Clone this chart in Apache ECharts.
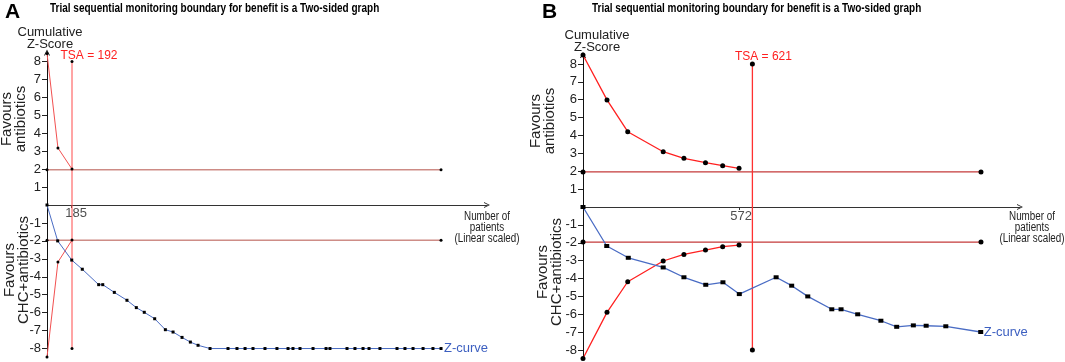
<!DOCTYPE html>
<html>
<head>
<meta charset="utf-8">
<script src="https://cdn.jsdelivr.net/npm/echarts@6/dist/echarts.min.js"></script>
<style>
html,body{margin:0;padding:0;background:#fff;}
#chart{width:1065px;height:362px;}
</style>
</head>
<body>
<div id="chart"></div>
<script>
// ---- panel A (patients, cumulative z) ----
var aBoundX = [0, 84, 192];
var aUpperZ = [8.45, 3.18, 2.0];
var aLowerZ = [-8.47, -3.18, -1.95];
var aConvX = [0, 3026];
var aTsa = 192;
var aTick = 185;
var aZX = [0, 82, 190, 271, 397, 428, 517, 614, 686, 747, 827, 909, 968, 1037, 1101, 1160,
    1252, 1390, 1459, 1521, 1582, 1674, 1766, 1851, 1889, 1943, 2043, 2143, 2173, 2304,
    2365, 2427, 2473, 2557, 2688, 2749, 2811, 2888, 2964, 3026];
var aZ = [0, -2.0, -3.07, -3.58, -4.44, -4.44, -4.87, -5.31, -5.72, -5.98, -6.34, -6.95, -7.08, -7.38, -7.64, -7.82,
    -8, -8, -8, -8, -8, -8, -8, -8, -8, -8, -8, -8, -8, -8,
    -8, -8, -8, -8, -8, -8, -8, -8, -8, -8];

// ---- panel B ----
var bBoundX = [0, 88, 164, 294, 370, 449, 512, 572];
var bUpperZ = [8.5, 5.99, 4.21, 3.09, 2.72, 2.48, 2.31, 2.16];
var bLowerZ = [-8.47, -5.89, -4.18, -3.02, -2.65, -2.41, -2.22, -2.13];
var bConvX = [0, 1459];
var bTsa = 621;
var bTick = 572;
var bZX = [0, 87, 166, 294, 370, 450, 513, 573, 708, 765, 824, 912, 946, 1007, 1092, 1150, 1211, 1258, 1330, 1458];
var bZ = [0, -2.18, -2.84, -3.38, -3.93, -4.35, -4.21, -4.87, -3.93, -4.40, -5.0, -5.72, -5.72, -6.0, -6.36, -6.70, -6.62, -6.64, -6.67, -6.99];

var convZ = 1.96;
var tsaTop = 8, tsaBottom = -8;
var yTicks = [-8, -7, -6, -5, -4, -3, -2, -1, 1, 2, 3, 4, 5, 6, 7, 8];

var FONT = 'Liberation Sans, Arial, Helvetica, sans-serif';
var chevron = 'path://M0,10 L5,0 L10,10 L8.4,10 L5,3.2 L1.6,10 Z';

function zip(xs, ys) {
    return xs.map(function (x, i) { return [x, ys[i]]; });
}

function xAxisOf(idx, max, tick) {
    return {
        type: 'value', gridIndex: idx, min: 0, max: max,
        axisLine: { onZero: true, symbol: ['none', chevron], symbolSize: [8, 6], lineStyle: { color: '#333', width: 1 } },
        axisTick: { show: true, customValues: [tick], length: 3, lineStyle: { color: '#333' } },
        axisLabel: { show: false },
        splitLine: { show: false }
    };
}

function yAxisOf(idx) {
    return {
        type: 'value', gridIndex: idx, min: -8.5, max: 8.5,
        axisLine: { onZero: true, symbol: ['none', chevron], symbolSize: [9, 6], lineStyle: { color: '#111', width: 1 } },
        axisTick: { show: true, customValues: yTicks, length: 5, lineStyle: { color: '#222' } },
        axisLabel: { show: false },
        splitLine: { show: false }
    };
}

function panelSeries(idx, d, st) {
    var base = { type: 'line', xAxisIndex: idx, yAxisIndex: idx, animation: false, silent: true };
    function line(extra) { return Object.assign({}, base, extra); }
    return [
        line({
            data: zip(d.convX, [convZ, convZ]), symbol: 'circle', symbolSize: st.dot,
            itemStyle: { color: '#000' }, lineStyle: { color: st.conv, width: st.w }, z: 2
        }),
        line({
            data: zip(d.convX, [-convZ, -convZ]), symbol: 'circle', symbolSize: st.dot,
            itemStyle: { color: '#000' }, lineStyle: { color: st.conv, width: st.w }, z: 2
        }),
        line({
            data: zip(d.boundX, d.upper), symbol: 'circle', symbolSize: st.dot,
            itemStyle: { color: '#000' }, lineStyle: { color: st.red, width: st.w }, z: 3
        }),
        line({
            data: zip(d.boundX, d.lower), symbol: 'circle', symbolSize: st.dot,
            itemStyle: { color: '#000' }, lineStyle: { color: st.red, width: st.w }, z: 3
        }),
        line({
            data: [
                { value: [d.tsa, tsaTop], label: {
                    show: true, formatter: 'TSA = ' + d.tsa, position: 'top', distance: 1,
                    offset: st.tsaOffset, color: '#ff2020', fontSize: 12, fontFamily: FONT
                } },
                [d.tsa, tsaBottom]
            ],
            symbol: 'circle', symbolSize: st.dot, itemStyle: { color: '#000' },
            lineStyle: { color: st.tsaColor, width: st.w }, z: 3
        }),
        line({
            data: zip(d.zx, d.z), symbol: 'rect', symbolSize: st.sq,
            itemStyle: { color: '#000' }, lineStyle: { color: '#4a6cc4', width: st.w }, z: 4,
            endLabel: { show: true, formatter: 'Z-curve', color: '#3c5fc0', fontSize: 13, fontFamily: FONT, distance: 3 }
        }),
        {
            // x tick value written on the zero line
            type: 'scatter', xAxisIndex: idx, yAxisIndex: idx, silent: true, animation: false,
            symbolSize: 0, data: [[d.tick, 0]],
            label: {
                show: true, position: 'bottom', distance: st.tickDist, offset: st.tickOffset,
                formatter: function (p) { return String(p.value[0]); },
                fontSize: 13, color: '#222', fontFamily: FONT
            }
        }
    ];
}

var dataA = { boundX: aBoundX, upper: aUpperZ, lower: aLowerZ, convX: aConvX, tsa: aTsa, tick: aTick, zx: aZX, z: aZ };
var dataB = { boundX: bBoundX, upper: bUpperZ, lower: bLowerZ, convX: bConvX, tsa: bTsa, tick: bTick, zx: bZX, z: bZ };

function sideLabel(x, y, text) {
    return {
        type: 'text', x: x, y: y, rotation: Math.PI / 2, silent: true, z: 1,
        style: { text: text, fontSize: 15, lineHeight: 14, fontFamily: FONT, fill: '#222', align: 'center', verticalAlign: 'middle' }
    };
}
function plainText(x, y, text, size, lh, opts) {
    opts = opts || {};
    return {
        type: 'text', x: x, y: y, silent: true, scaleX: opts.sx || 1,
        style: {
            text: text, fontSize: size, lineHeight: lh, fontFamily: FONT, fontWeight: opts.bold ? 'bold' : 'normal',
            fill: opts.color || '#222', align: opts.align || 'center', verticalAlign: 'middle'
        }
    };
}

var titleText = 'Trial sequential monitoring boundary for benefit is a Two-sided graph';

var graphics = [
    plainText(50, 9, titleText, 12.5, 14, { bold: true, sx: 0.8, align: 'left', color: '#000' }),
    plainText(592, 9, titleText, 12.5, 14, { bold: true, sx: 0.8, align: 'left', color: '#000' }),
    plainText(50, 38, 'Cumulative\nZ-Score', 13, 12),
    plainText(597, 41, 'Cumulative\nZ-Score', 13, 12),
    sideLabel(14, 119, 'Favours\nantibiotics'),
    sideLabel(17, 270, 'Favours\nCHC+antibiotics'),
    sideLabel(543, 121, 'Favours\nantibiotics'),
    sideLabel(550, 272, 'Favours\nCHC+antibiotics'),
    plainText(487, 228, 'Number of\npatients\n(Linear scaled)', 12, 11, { sx: 0.82 }),
    plainText(1032, 228, 'Number of\npatients\n(Linear scaled)', 12, 11, { sx: 0.82 })
];

var option = {
    backgroundColor: '#fff',
    animation: false,
    title: [
        { text: 'A', left: 5, top: 2, padding: 0, textStyle: { fontSize: 21, fontWeight: 'bold', color: '#000', fontFamily: FONT } },
        { text: 'B', left: 542, top: 2, padding: 0, textStyle: { fontSize: 21, fontWeight: 'bold', color: '#000', fontFamily: FONT } }
    ],
    grid: [
        { left: 47, top: 52.5, width: 440, height: 305, outerBoundsMode: 'none', containLabel: false },
        { left: 583, top: 55, width: 437, height: 304, outerBoundsMode: 'none', containLabel: false }
    ],
    xAxis: [xAxisOf(0, 3379, aTick), xAxisOf(1, 1602, bTick)],
    yAxis: [yAxisOf(0), yAxisOf(1)],
    series: panelSeries(0, dataA, { w: 1, dot: 3, sq: 3, red: '#f25050', conv: '#b5524a', tsaColor: '#ff4a4a',
            tsaOffset: [17, 3], tickDist: 1.5, tickOffset: [5, 0] })
        .concat(panelSeries(1, dataB, { w: 1.3, dot: 5, sq: [5, 4], red: '#ff2020', conv: '#c43a3a', tsaColor: '#ff3030',
            tsaOffset: [11, 2], tickDist: 3, tickOffset: [2, 0] })),
    graphic: graphics
};

var chart = echarts.init(document.getElementById('chart'));
chart.setOption(option);

// y tick values: placed through each grid's own scale, on their own layer
[0, 1].forEach(function (gi) {
    yTicks.forEach(function (v) {
        var pt = chart.convertToPixel({ gridIndex: gi }, [0, v]);
        graphics.push({
            type: 'text', x: pt[0] - 6, y: pt[1], silent: true, z: 50, zlevel: 1,
            style: { text: String(v), fontSize: 13, fontFamily: FONT,
                fill: '#222', align: 'right', verticalAlign: 'middle' }
        });
    });
});
chart.setOption({ graphic: graphics });
</script>
</body>
</html>
